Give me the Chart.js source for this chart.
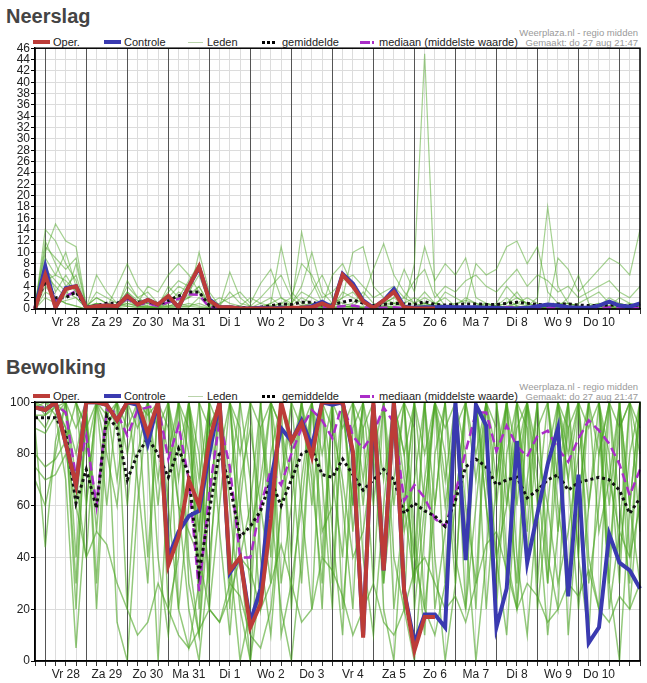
<!DOCTYPE html>
<html>
<head>
<meta charset="utf-8">
<title>Neerslag en bewolking</title>
<script src="https://cdn.jsdelivr.net/npm/chart.js@4.4.0/dist/chart.umd.min.js"></script>
<style>
body { margin: 0; width: 647px; height: 683px; overflow: hidden; background: #fff; position: relative;
       font-family: "Liberation Sans", Arial, sans-serif; }
.titel { position: absolute; left: 6px; margin: 0; font-size: 20px; font-weight: bold; color: #444; line-height: 22px; }
.legenda { position: absolute; left: 0; width: 647px; height: 14px; font-size: 11px; color: #222; }
.legenda span { position: absolute; top: 0; line-height: 14px; white-space: nowrap; }
.legenda i { position: absolute; display: block; }
.bron { position: absolute; right: 9px; text-align: right; font-size: 9.5px; color: #9a9a9a; line-height: 10px; }
canvas { position: absolute; left: 0; }
</style>
</head>
<body>

<h2 class="titel" style="top:5px">Neerslag</h2>
<div class="bron" style="top:28px">Weerplaza.nl - regio midden<br>Gemaakt: do 27 aug 21:47</div>
<div class="legenda" id="legenda1" style="top:35px"></div>
<canvas id="neerslag" width="647" height="291" style="top:40px"></canvas>

<h2 class="titel" style="top:356px">Bewolking</h2>
<div class="bron" style="top:382px">Weerplaza.nl - regio midden<br>Gemaakt: do 27 aug 21:47</div>
<div class="legenda" id="legenda2" style="top:389px"></div>
<canvas id="bewolking" width="647" height="289" style="top:394px"></canvas>

<script>
// tijdstappen van 6 uur, vanaf do 27 aug 18:00
const tijdstappen = Array.from({ length: 60 }, (_, i) => i);
const dagLabels = ['Vr 28', 'Za 29', 'Zo 30', 'Ma 31', 'Di 1', 'Wo 2', 'Do 3',
                   'Vr 4', 'Za 5', 'Zo 6', 'Ma 7', 'Di 8', 'Wo 9', 'Do 10'];

// ---- Neerslag (mm) ----
const neerslagOper = [0,6,0.3,3.5,4,0.2,0.5,0.6,0.5,2.3,
  0.8,1.6,0.8,2.3,0.3,4,7.5,1.5,0.3,0.3,
  0.1,0.1,0.1,0.1,0.1,0.2,0.2,0.3,1,0.2,
  6,4,1.3,0.2,1.5,3,0.3,0.1,0.1,0.1];
const neerslagControle = [0,7.5,0.3,3.7,4,0.2,0.5,0.6,0.5,2.3,
  0.8,1.6,0.8,2.2,0.3,4,7.3,1.7,0.3,0.3,
  0.1,0.1,0.2,0.1,0.2,0.1,0.2,0.5,1.3,0.3,
  6.2,4.5,1.5,0.2,1.5,3.5,0.4,0.2,0.3,0.3,
  0.4,0.3,0.3,0.3,0.2,0.2,0.1,0.1,0.2,0.5,
  0.8,0.6,0.3,0.2,0.2,0.6,1.3,0.6,0.4,1];
const neerslagGemiddelde = [0.2,5,2,2,3,0.3,0.6,1,1,2,
  1.2,1.3,0.8,1.5,2.3,3,3,0.6,0.3,0.3,
  0.3,0.2,0.3,0.6,0.9,0.8,1.2,1.2,0.7,0.8,
  1.2,1.6,1,0.6,0.8,1,0.9,0.8,1.3,0.8,
  0.7,0.8,0.9,0.9,0.8,0.8,1,1.2,1,0.8,
  0.7,0.9,0.9,0.7,0.6,0.6,0.7,0.6,0.6,0.7];
const neerslagMediaan = [0,5.5,1.5,2.2,3.2,0.1,0.3,0.5,0.5,1.8,
  0.8,1,0.5,1.2,1.8,2.6,2.5,0.3,0.1,0.1,
  0.1,0,0,0.1,0.1,0.1,0.2,0.3,0.3,0.3,
  0.5,0.6,0.3,0.2,0.2,0.3,0.2,0.1,0.2,0.1,
  0.1,0.1,0.2,0.1,0.2,0.3,0.3,0.3,0.2,0.1,
  0.2,0.2,0.1,0.1,0.1,0.2,0.3,0.2,0.1,0.2];
const neerslagLeden = [
  [0,14,12,8,5,0.2,1,0.5,0.3,3, 1,0.5,0.2,2,4,3,6,1,0.2,0.5, 0.2,0,0.3,0.5,1,0.5,2,1,0.5,0.2,
   3,2,1,0.3,1,2,0.5,0.2,1,0.5, 0.3,0.5,2,1,0.3,0.5,1,3,0.5,0.2, 1,0.5,0.3,0.2,0.5,1,0.5,0.3,0.2,0.5],
  [1,10,15,12,11,0.5,2,1,0.5,1, 0.5,1,0.5,4,2,5,8,2,0.5,0.2, 0.1,0.2,1,2,0.5,0.2,0.5,3,6,2,
   1,0.5,0.2,0.1,0.5,1,2,1,3,1, 0.5,0.2,0.5,0.3,0.2,1,4,2,1,0.5, 0.2,0.1,0.5,1,2,3,1,0.5,0.3,0.2],
  [0,6,4,2,8,0.3,0.5,0.3,0.2,5, 2,1,0.5,1,3,2,4,0.5,0.2,0.1, 0,0,0.1,0.2,0.5,1,4,10,3,1,
   0.5,1,3,1,0.5,0.3,0.2,8,45,3, 0.5,0.2,0.5,0.3,0.2,0.5,0.3,0.5,0.2,0.1, 0.5,1,0.5,0.2,0.1,0.5,0.3,0.2,0.5,0.3],
  [0.5,12,8,4,6,0.2,6,3,1,2, 0.5,0.3,0.2,0.5,1,2,10,3,0.5,6.5, 2,0.5,0.2,1,11,3,1,0.5,0.3,0.5,
   2,10,11,4,2,1,0.5,0.3,0.5,1, 2,0.5,0.3,0.5,1,0.5,0.3,0.2,0.5,2, 18,4,1,0.5,0.3,0.2,0.5,1,0.5,0.3],
  [0,8,3,6,3,0,0.5,0.2,4,8, 4,2,1,0.5,0.5,0.3,2,0.5,1,2, 3,1,4.5,7,2,0.5,13.6,5,1,0.5,
   0.3,0.5,2,7,11.5,6,3,1,0.5,0.3, 0.5,0.3,0.2,0.5,1,0.5,2,0.5,0.3,0.2, 0.3,0.5,1,0.5,0.3,0.5,2,1,0.5,0.3],
  [0,3,2,1,0.5,0,0.2,0.1,0.5,2, 1,4,3,6,8,6,3,1,2,1, 0.5,0.2,0.1,0.3,1,2,0.5,0.3,0.5,6,
   8,4,1,0.5,1,2,7,3,11,5, 8,6,9,2,1,0.5,0.3,1,2,1, 0.5,0.3,2,6,1,0.5,0.3,0.5,1,0.5],
  [2,5,6,10,4,0.5,1,0.5,0.3,1, 0.5,0.2,0.5,0.3,0.5,1,0.5,0.2,0.1,0.2, 0.5,2,1,0.5,0.3,0.2,0.5,1,0.5,1,
   0.5,0.3,0.2,0.5,0.3,0.5,1,2,1,0.5, 3,2,1,8,6,7,11,12,8,11, 3,1,0.5,0.3,0.5,1,0.5,2,1,0.5],
  [0,7,5,3,2,0.2,3,2,1,0.5, 0.3,0.5,0.2,0.5,1,0.5,0.3,0.2,0.5,0.3, 0.2,0.1,0.2,0.5,0.3,0.2,0.3,0.5,0.3,0.2,
   0.5,0.3,0.5,0.2,0.5,0.3,0.2,0.5,1,0.5, 0.3,0.5,0.3,0.2,0.5,0.3,0.5,1,0.5,0.3, 0.2,9,7,3,5,7,9,8,6,14],
  [0,4,2,1,0.5,0,0.2,0.1,0.2,0.5, 0.3,0.2,0.1,0.2,0.3,0.5,1,0.3,0.2,0.1, 0,0,0.1,0.2,0.3,0.5,0.3,0.2,0.1,0.2,
   0.3,0.5,0.2,0.1,0.3,0.2,0.1,0.3,0.5,0.2, 0.1,0.2,0.3,0.2,0.1,0.2,0.3,0.2,0.1,0.2, 0.3,0.2,0.1,0.2,0.3,0.2,0.1,0.3,0.2,0.1],
  [0,9,6,5,3,0.3,1,0.5,0.5,3, 1.5,1.5,1,2,2,2.5,4,1,0.3,0.2, 0.1,0.1,0.3,1,2,1,3,2,1,1,
   2,3,1,0.5,1,1,0.5,1,2,1, 0.5,1,1.5,1,0.5,0.5,1,2,1,0.5, 0.5,1,1,0.5,0.3,0.5,1,0.5,0.3,0.5],
  [0,2,1,1.5,2,0.1,0.5,0.3,0.2,1.5, 0.5,0.5,0.3,1,1.5,2,3,0.3,0.1,0, 0,0,0,0.1,0.2,0.1,0.5,0.3,0.2,0.1,
   0.5,0.3,0.2,0.1,0.2,0.1,0,0.2,0.5,0.1, 0,0.1,0.2,0.1,0,0.1,0.2,0.5,0.2,0.1, 0.3,0.2,0.1,0.1,0.2,0.5,0.2,0.1,0.2,0.1],
  [0,11,9,7,9,0.5,2,1,0.5,4, 2,3,1,3,5,4,7,1.5,0.5,3, 1,0.5,2,4,6,2,8,6,2,3,
   5,6,4,2,3,4,2,5,7,2, 4,3,5,6,4,3,5,7,4,6, 5,3,4,2,3,4,5,3,2,4]
];
const neerslagTicks = { max: 46, stap: 2 };

// ---- Bewolking (%) ----
const bewolkingOper = [98,97,100,84,68,100,100,99,93,100,
  100,88,100,37,48,70,60,85,100,35,
  40,13,22,55,100,85,92,79,100,100,
  100,81,9,100,35,100,27,4,17,17];
const bewolkingControle = [98,97,100,84,68,100,100,99,93,100,
  99,84,100,40,50,56,58,80,100,34,
  40,15,28,70,90,85,93,83,100,99,
  100,80,10,99,35,100,27,7,18,18,
  13,100,39,99,91,13,28,85,38,57,
  76,90,25,72,7,13,49,38,35,28];
const bewolkingGemiddelde = [94,94,94,88,61,74,59,95,90,70,
  80,86,80,71,82,72,34,58,81,68,
  48,52,58,70,60,70,80,82,72,71,
  78,72,66,70,74,70,57,61,58,56,
  52,62,75,78,75,68,70,71,63,66,
  70,72,66,69,70,71,70,66,57,63];
const bewolkingMediaan = [98,98,99,96,71,87,60,97,96,87,
  97,98,99,78,91,70,27,65,93,75,
  40,40,60,74,68,80,90,97,93,86,
  100,87,82,88,98,92,62,68,63,55,
  52,65,81,96,96,81,91,83,79,87,
  89,82,77,86,93,89,84,76,64,74];
const bewolkingLeden = [
  [95,90,100,100,60,100,100,100,70,100, 100,95,100,80,100,90,40,100,100,60, 20,0,30,80,100,100,90,100,100,100,
   60,20,100,100,40,100,80,30,70,100, 100,60,100,100,20,70,100,100,40,90, 100,100,10,60,100,100,80,30,100,90],
  [100,100,100,90,30,95,50,100,100,80, 100,100,60,100,100,40,10,60,100,100, 90,50,70,100,30,60,100,100,70,20,
   100,100,90,30,100,100,20,0,50,100, 70,100,80,20,100,100,60,100,90,30, 80,100,70,100,40,20,100,100,60,100],
  [80,75,78,85,100,100,100,95,100,100, 90,100,100,100,70,100,100,20,60,100, 100,100,40,10,60,100,100,70,30,100,
   100,50,90,100,100,60,100,100,100,40, 0,30,100,100,90,40,10,70,100,100, 30,80,100,100,60,90,30,0,60,100],
  [98,100,95,70,5,60,100,100,15,0, 60,100,100,40,100,100,70,100,90,40, 0,20,90,100,100,80,30,100,100,100,
   90,100,40,10,60,100,100,90,20,60, 100,100,50,0,40,100,100,80,100,60, 10,50,100,100,100,50,70,100,100,80],
  [100,100,100,100,90,100,20,90,100,100, 100,80,0,70,100,100,100,60,100,100, 80,100,100,60,20,0,40,100,100,70,
   40,100,100,100,20,0,60,100,80,100, 100,40,20,100,100,90,30,100,100,20, 60,100,90,40,10,80,100,90,100,50],
  [90,44,85,100,100,100,100,80,60,100, 100,100,100,20,40,100,100,100,50,10, 60,100,100,100,90,40,100,80,20,100,
   100,100,70,100,100,100,60,30,100,100, 60,90,100,70,100,100,40,20,70,100, 100,60,30,100,100,100,40,90,100,100],
  [100,98,100,100,70,40,100,100,100,60, 100,100,90,100,100,80,50,100,100,100, 100,70,20,50,100,100,100,60,100,100,
   20,70,100,60,100,100,100,50,10,80, 100,100,100,100,60,20,80,100,50,100, 100,100,70,20,60,100,100,40,80,100],
  [95,95,98,100,100,90,60,100,100,100, 70,30,100,100,60,20,0,40,80,100, 60,30,100,100,70,100,100,100,50,60,
   100,100,100,80,30,70,100,100,100,20, 50,100,60,30,100,100,100,40,10,60, 100,70,100,100,30,60,100,100,20,70],
  [100,100,100,100,40,100,100,90,100,100, 100,100,70,100,20,60,100,90,100,30, 70,90,60,30,100,100,60,20,100,100,
   100,60,100,100,100,100,50,70,100,100, 100,100,20,60,100,80,100,100,100,70, 30,100,100,60,100,100,20,50,100,100],
  [98,98,100,95,80,100,100,100,100,20, 80,100,100,100,100,100,30,100,100,100, 40,60,100,100,100,20,70,100,100,50,
   10,90,100,100,70,100,100,100,60,100, 80,30,100,100,100,100,70,30,100,100, 100,100,100,40,100,100,100,100,60,30],
  [100,100,100,100,100,100,100,100,100,100, 100,100,100,100,100,100,60,90,100,100, 100,100,100,100,90,70,100,100,100,100,
   100,100,100,100,100,100,80,100,100,100, 100,100,100,100,100,60,100,100,100,100, 100,100,100,100,90,100,100,100,100,100],
  [70,60,80,100,100,80,100,100,100,90, 100,100,100,60,20,5,30,100,100,70, 100,100,100,100,10,30,60,100,80,100,
   100,100,100,100,100,20,60,100,100,100, 30,100,100,100,60,30,100,100,100,100, 40,20,100,100,100,80,100,60,30,100],
  [100,100,98,90,20,100,100,100,90,100, 100,100,40,10,50,100,80,30,100,100, 100,100,90,60,100,100,100,100,40,100,
   100,100,100,100,30,90,100,20,60,100, 100,100,100,80,100,100,100,60,100,100, 100,50,90,100,100,100,60,100,100,100],
  [100,100,100,100,100,60,100,100,100,100, 100,40,100,100,100,100,20,80,100,100, 40,0,60,100,100,100,100,100,100,30,
   100,100,60,100,100,100,100,40,100,100, 90,100,100,100,100,100,100,100,60,100, 100,100,100,100,100,100,100,100,40,100],
  [100,95,100,100,100,100,100,60,100,100, 100,100,100,100,100,30,10,80,100,100, 100,100,100,40,100,100,100,100,100,100,
   100,60,100,100,100,40,20,100,100,100, 100,100,100,100,100,70,100,100,100,100, 100,100,80,100,100,100,100,100,100,100],
  [90,88,95,100,100,100,30,100,100,100, 100,100,100,100,80,100,50,100,100,20, 100,100,100,100,100,100,100,100,100,100,
   100,100,100,100,100,100,100,100,100,60, 100,100,100,100,100,100,100,20,100,100, 100,100,100,100,100,100,30,100,100,100],
  [75,70,72,80,60,40,50,45,30,20, 10,15,30,20,10,5,12,20,15,25, 40,35,20,30,45,30,15,20,40,35,
   25,10,20,30,15,10,20,35,40,30, 20,25,15,30,45,50,35,20,30,25, 15,20,30,25,35,20,15,25,20,30],
  [100,100,100,100,100,90,100,100,100,100, 100,100,100,90,60,50,40,20,15,30, 25,10,5,20,60,80,100,100,100,90,
   70,40,50,80,100,100,70,40,20,10, 30,60,100,100,70,40,60,90,100,80, 60,30,50,80,100,100,70,50,40,60]
];
const bewolkingTicks = { max: 100, stap: 20 };

// Legenda (zelfde voor beide grafieken)
function maakLegenda(id) {
  document.getElementById(id).innerHTML =
    '<i style="left:33px;top:5px;width:17px;height:4px;background:rgb(188,60,56)"></i><span style="left:53px">Oper.</span>' +
    '<i style="left:104px;top:5px;width:17px;height:4px;background:rgb(58,58,176)"></i><span style="left:124px">Controle</span>' +
    '<i style="left:188px;top:7px;width:15px;height:1px;background:#b9d3aa"></i><span style="left:207px">Leden</span>' +
    '<i style="left:262px;top:6px;width:15px;height:3px;background:repeating-linear-gradient(90deg,#000 0 3px,transparent 3px 5px)"></i><span style="left:282px">gemiddelde</span>' +
    '<i style="left:360px;top:6px;width:15px;height:3px;background:linear-gradient(90deg,rgb(170,45,200) 0 10px,transparent 10px 12px,rgb(170,45,200) 12px 14px,transparent 14px)"></i><span style="left:379px">mediaan (middelste waarde)</span>';
}
maakLegenda('legenda1');
maakLegenda('legenda2');

// Zwart kader rond het grafiekgebied
const kader = {
  id: 'kader',
  afterDraw(chart) {
    const { ctx, chartArea: a } = chart;
    ctx.save();
    ctx.strokeStyle = '#000';
    ctx.lineWidth = 1.5;
    ctx.strokeRect(a.left, a.top, a.right - a.left, a.bottom - a.top);
    ctx.restore();
  }
};

function tekenGrafiek(canvasId, oper, controle, gemiddelde, mediaan, leden, yas, ledenKleur, ledenDikte) {
  const datasets = [
    { label: 'Oper.', data: oper, borderColor: 'rgb(188,60,56)', borderWidth: 4 },
    { label: 'Controle', data: controle, borderColor: 'rgb(58,58,176)', borderWidth: 4 },
    { label: 'gemiddelde', data: gemiddelde, borderColor: '#111', borderWidth: 3, borderDash: [3, 3] },
    { label: 'mediaan', data: mediaan, borderColor: 'rgb(170,45,200)', borderWidth: 2.5, borderDash: [9, 5] }
  ];
  leden.forEach((reeks, k) => {
    datasets.push({ label: 'Lid ' + (k + 1), data: reeks, borderColor: ledenKleur, borderWidth: ledenDikte });
  });

  return new Chart(document.getElementById(canvasId), {
    type: 'line',
    data: { labels: tijdstappen, datasets: datasets },
    plugins: [kader],
    options: {
      responsive: false,
      animation: false,
      layout: { padding: { top: 8, right: 7, left: 0, bottom: 0 } },
      elements: { point: { radius: 0 }, line: { tension: 0 } },
      plugins: { legend: { display: false }, tooltip: { enabled: false } },
      scales: {
        x: {
          type: 'category',
          grid: {
            z: -1,
            color: c => (c.index % 4 === 1 ? '#555' : '#dcdcdc'),
            lineWidth: 1,
            tickLength: 5,
            tickColor: '#333'
          },
          border: { color: '#000', width: 1.5 },
          ticks: {
            autoSkip: false,
            maxRotation: 0,
            padding: 1,
            color: '#222',
            font: { size: 12 },
            callback: (v, i) => (i % 4 === 3 ? (dagLabels[(i - 3) / 4] || '') : '')
          },
          afterFit: s => { s.height = 22; }
        },
        y: {
          min: 0,
          max: yas.max,
          // horizontale rasterlijnen eerst, zodat de donkere daglijnen doorlopen
          grid: { z: -2, color: '#dcdcdc', tickLength: 4, tickColor: '#000' },
          border: { color: '#000', width: 1.5 },
          ticks: { stepSize: yas.stap, autoSkip: false, padding: 1, color: '#222', font: { size: 12 } },
          afterFit: s => { s.width = 35; }
        }
      }
    }
  });
}

Chart.defaults.font.family = '"Liberation Sans", Arial, sans-serif';
tekenGrafiek('neerslag', neerslagOper, neerslagControle, neerslagGemiddelde, neerslagMediaan, neerslagLeden,
             neerslagTicks, 'rgba(75,165,35,0.5)', 1.2);
tekenGrafiek('bewolking', bewolkingOper, bewolkingControle, bewolkingGemiddelde, bewolkingMediaan, bewolkingLeden,
             bewolkingTicks, 'rgba(75,165,35,0.6)', 1.5);
</script>
</body>
</html>
